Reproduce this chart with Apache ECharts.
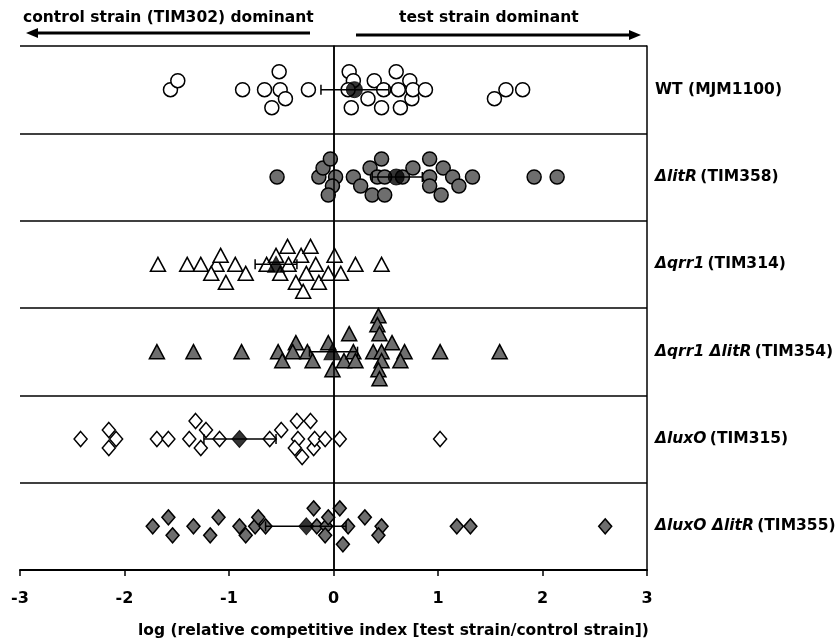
<!DOCTYPE html>
<html>
<head>
<meta charset="utf-8">
<script src="https://cdn.jsdelivr.net/npm/echarts@6/dist/echarts.min.js"></script>
<style>
  html, body { margin: 0; padding: 0; background: #fff; }
  #chart { width: 839px; height: 644px; }
</style>
</head>
<body>
<div id="chart"></div>
<script>
// row labels, top to bottom
const rowLabels = ['WT (MJM1100)', 'ΔlitR (TIM358)', 'Δqrr1 (TIM314)', 'Δqrr1 ΔlitR (TIM354)', 'ΔluxO (TIM315)', 'ΔluxO ΔlitR (TIM355)'];
const xTicks = [-3, -2, -1, 0, 1, 2, 3];

// log RCI per animal, lane = vertical swarm slot (negative = above centre)
const wtX = [-1.56, -1.49, -0.87, -0.66, -0.52, -0.51, -0.46, -0.59, -0.24, 0.15, 0.19, 0.14, 0.17, 0.33, 0.39, 0.46, 0.48, 0.60, 0.62, 0.64, 0.73, 0.75, 0.76, 0.88, 1.54, 1.65, 1.81];
const wtLane = [0, -1, 0, 0, -2, 0, 1, 2, 0, -2, -1, 0, 2, 1, -1, 2, 0, -2, 0, 2, -1, 1, 0, 0, 1, 0, 0];

const litRX = [-0.54, -0.14, -0.10, -0.03, 0.02, -0.01, -0.05, 0.19, 0.26, 0.35, 0.37, 0.42, 0.46, 0.49, 0.49, 0.66, 0.76, 0.92, 0.92, 0.92, 1.05, 1.14, 1.20, 1.03, 1.33, 1.92, 2.14];
const litRLane = [0, 0, -1, -2, 0, 1, 2, 0, 1, -1, 2, 0, -2, 0, 2, 0, -1, -2, 0, 1, -1, 0, 1, 2, 0, 0, 0];

const qrr1X = [-1.68, -1.40, -1.27, -1.12, -1.08, -1.17, -1.03, -0.94, -0.84, -0.64, -0.55, -0.51, -0.44, -0.43, -0.31, -0.22, -0.17, -0.26, -0.36, -0.29, -0.14, -0.05, 0.01, 0.07, 0.21, 0.46];
const qrr1Lane = [0, 0, 0, 0, -1, 1, 2, 0, 1, 0, -1, 1, -2, 0, -1, -2, 0, 1, 2, 3, 2, 1, -1, 1, 0, 0];

const qrr1LitRX = [-1.69, -1.34, -0.88, -0.53, -0.49, -0.36, -0.39, -0.25, -0.20, -0.05, -0.01, 0.10, 0.15, 0.19, 0.21, 0.38, 0.43, 0.42, 0.44, 0.46, 0.46, 0.43, 0.44, 0.56, 0.68, 0.64, 1.02, 1.59];
const qrr1LitRLane = [0, 0, 0, 0, 1, -1, 0, 0, 1, -1, 2, 1, -2, 0, 1, 0, -4, -3, -2, 0, 1, 2, 3, -1, 0, 1, 0, 0];

const luxOX = [-2.42, -2.15, -2.08, -2.15, -1.69, -1.58, -1.38, -1.32, -1.22, -1.27, -1.09, -0.61, -0.50, -0.35, -0.22, -0.34, -0.37, -0.30, -0.19, -0.18, -0.08, 0.06, 1.02];
const luxOLane = [0, -1, 0, 1, 0, 0, 0, -2, -1, 1, 0, 0, -1, -2, -2, 0, 1, 2, 1, 0, 0, 0, 0];

const luxOLitRX = [-1.73, -1.58, -1.54, -1.34, -1.18, -1.10, -0.90, -0.84, -0.75, -0.72, -0.65, -0.19, -0.16, -0.07, -0.05, -0.08, 0.06, 0.14, 0.09, 0.30, 0.46, 0.43, 1.18, 1.31, 2.60];
const luxOLitRLane = [0, -1, 1, 0, 1, -1, 0, 1, 0, -1, 0, -2, 0, 0, -1, 1, -2, 0, 2, -1, 0, 1, 0, 0, 0];

// mean and error bar per row
const means = [0.20, 0.60, -0.55, -0.01, -0.90, -0.26];
const errLow = [-0.12, 0.37, -0.75, -0.23, -1.24, -0.65];
const errHigh = [0.53, 0.85, -0.35, 0.23, -0.55, 0.12];

const FONT = "'DejaVu Sans', sans-serif";
const LANE_STEP = 0.103;
const GREY = '#6e6e6e';

const rowsX = [wtX, litRX, qrr1X, qrr1LitRX, luxOX, luxOLitRX];
const rowsLane = [wtLane, litRLane, qrr1Lane, qrr1LitRLane, luxOLane, luxOLitRLane];
const rowSymbol = ['circle', 'circle', 'triangle', 'triangle', 'diamond', 'diamond'];
const rowFill = ['#fff', GREY, '#fff', GREY, '#fff', GREY];
const rowSize = [[14, 14], [14, 14], [15, 14], [15, 14], [13, 15], [13, 15]];

function rowCenter(i) { return 5.5 - i; }

const series = [];
rowsX.forEach(function (xs, i) {
  series.push({
    type: 'scatter',
    symbol: rowSymbol[i],
    symbolSize: rowSize[i],
    itemStyle: { color: rowFill[i], borderColor: '#000', borderWidth: 1.5, opacity: 1 },
    data: xs.map(function (x, k) { return [x, rowCenter(i) - rowsLane[i][k] * LANE_STEP]; }),
    markLine: i === 0 ? {
      silent: true, symbol: 'none', label: { show: false },
      lineStyle: { color: '#000', type: 'solid', width: 1.5 },
      data: [{ xAxis: 0 }]
    } : undefined,
    z: 2
  });
});

series.push({
  type: 'custom',
  renderItem: function (params, api) {
    const y = api.value(2);
    const p1 = api.coord([api.value(0), y]);
    const p2 = api.coord([api.value(1), y]);
    const h = 5;
    const st = { stroke: '#000', lineWidth: 1.5 };
    return {
      type: 'group',
      children: [
        { type: 'line', shape: { x1: p1[0], y1: p1[1], x2: p2[0], y2: p2[1] }, style: st },
        { type: 'line', shape: { x1: p1[0], y1: p1[1] - h, x2: p1[0], y2: p1[1] + h }, style: st },
        { type: 'line', shape: { x1: p2[0], y1: p2[1] - h, x2: p2[0], y2: p2[1] + h }, style: st }
      ]
    };
  },
  encode: { x: [0, 1], y: 2 },
  data: means.map(function (m, i) { return [errLow[i], errHigh[i], rowCenter(i)]; }),
  z: 3
});

means.forEach(function (m, i) {
  series.push({
    type: 'scatter',
    symbol: rowSymbol[i],
    symbolSize: [rowSize[i][0] + 2, rowSize[i][1] + 2],
    itemStyle: { color: '#000', borderColor: '#000', borderWidth: 1 },
    data: [[m, rowCenter(i)]],
    z: 4
  });
});

const chart = echarts.init(document.getElementById('chart'));
chart.setOption({
  animation: false,
  backgroundColor: '#fff',
  grid: { left: 20, right: 192, top: 46, bottom: 74, outerBoundsMode: 'none', containLabel: false },
  xAxis: {
    type: 'value', min: -3, max: 3, interval: 1,
    axisLine: { show: true, onZero: false, lineStyle: { color: '#000', width: 2 } },
    axisTick: { show: true, length: 6, lineStyle: { color: '#000', width: 1.5 } },
    axisLabel: {
      margin: 21, color: '#000', fontFamily: FONT, fontWeight: 'bold', fontSize: 16,
      formatter: function (v) { return xTicks.indexOf(v) >= 0 ? String(v) : ''; }
    },
    splitLine: { show: false }
  },
  yAxis: [{
    type: 'value', min: 0, max: 6, interval: 1,
    axisLine: { show: true, lineStyle: { color: '#000', width: 1.5 } },
    axisTick: { show: false },
    axisLabel: { show: false },
    splitLine: { show: true, lineStyle: { color: '#000', width: 1.5 } }
  }, {
    type: 'category', position: 'right', inverse: true,
    data: rowLabels,
    axisLine: { show: true, lineStyle: { color: '#000', width: 1.5 } },
    axisTick: { show: false },
    axisLabel: {
      margin: 8, color: '#000',
      formatter: function (s) {
        const cut = s.indexOf(' (');
        const gene = s.slice(0, cut);
        const strain = s.slice(cut + 1);
        if (gene === 'WT') return '{b|' + s + '}';
        return '{i|' + gene + '} {b|' + strain + '}';
      },
      rich: {
        b: { fontFamily: FONT, fontWeight: 'bold', fontSize: 15.5, color: '#000' },
        i: { fontFamily: FONT, fontWeight: 'bold', fontStyle: 'italic', fontSize: 15.5, color: '#000' }
      }
    }
  }],
  graphic: [
    { type: 'text', x: 23, y: 18, style: { text: 'control strain (TIM302) dominant', fontFamily: FONT, fontWeight: 'bold', fontSize: 15.5, fill: '#000', verticalAlign: 'middle' } },
    { type: 'text', x: 399, y: 18, style: { text: 'test strain dominant', fontFamily: FONT, fontWeight: 'bold', fontSize: 15.5, fill: '#000', verticalAlign: 'middle' } },
    { type: 'line', shape: { x1: 36, y1: 33, x2: 310, y2: 33 }, style: { stroke: '#000', lineWidth: 3 } },
    { type: 'polygon', shape: { points: [[26, 33], [38, 28], [38, 38]] }, style: { fill: '#000' } },
    { type: 'line', shape: { x1: 356, y1: 35, x2: 630, y2: 35 }, style: { stroke: '#000', lineWidth: 3 } },
    { type: 'polygon', shape: { points: [[641, 35], [629, 30], [629, 40]] }, style: { fill: '#000' } },
    { type: 'text', x: 138, y: 631, style: { text: 'log (relative competitive index [test strain/control strain])', fontFamily: FONT, fontWeight: 'bold', fontSize: 15.5, fill: '#000', verticalAlign: 'middle' } }
  ],
  series: series
});
</script>
</body>
</html>
